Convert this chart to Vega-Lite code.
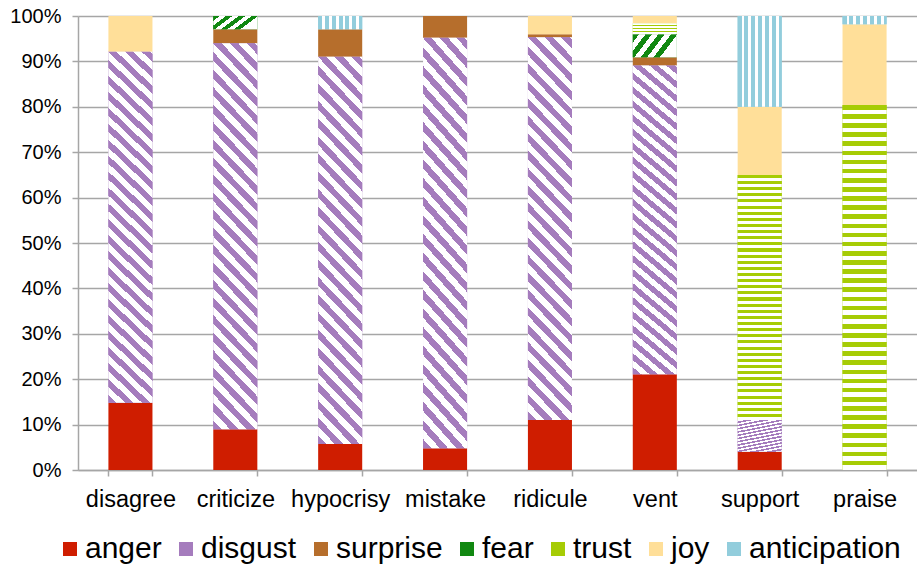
{
  "$schema": "https://vega.github.io/schema/vega-lite/v6.json",
  "autosize": {"type": "none"},
  "width": 839,
  "height": 454,
  "padding": {"left": 78, "top": 16, "right": 0, "bottom": 97},
  "background": "white",
  "config": {"view": {"stroke": null}, "font": "Liberation Sans"},
  "data": {"values": [
    {"category": "disagree", "emotion": "anger", "value": 14.8},
    {"category": "disagree", "emotion": "disgust", "value": 77.3},
    {"category": "disagree", "emotion": "joy", "value": 7.9},
    {"category": "criticize", "emotion": "anger", "value": 9.0},
    {"category": "criticize", "emotion": "disgust", "value": 85.0},
    {"category": "criticize", "emotion": "surprise", "value": 3.1},
    {"category": "criticize", "emotion": "fear", "value": 2.9},
    {"category": "hypocrisy", "emotion": "anger", "value": 5.7},
    {"category": "hypocrisy", "emotion": "disgust", "value": 85.3},
    {"category": "hypocrisy", "emotion": "surprise", "value": 6.1},
    {"category": "hypocrisy", "emotion": "anticipation", "value": 2.9},
    {"category": "mistake", "emotion": "anger", "value": 4.8},
    {"category": "mistake", "emotion": "disgust", "value": 90.4},
    {"category": "mistake", "emotion": "surprise", "value": 4.8},
    {"category": "ridicule", "emotion": "anger", "value": 11.0},
    {"category": "ridicule", "emotion": "disgust", "value": 84.3},
    {"category": "ridicule", "emotion": "surprise", "value": 0.7},
    {"category": "ridicule", "emotion": "joy", "value": 4.0},
    {"category": "vent", "emotion": "anger", "value": 21.1},
    {"category": "vent", "emotion": "disgust", "value": 68.0},
    {"category": "vent", "emotion": "surprise", "value": 1.8},
    {"category": "vent", "emotion": "fear", "value": 5.1},
    {"category": "vent", "emotion": "trust", "value": 2.4},
    {"category": "vent", "emotion": "joy", "value": 1.6},
    {"category": "support", "emotion": "anger", "value": 4.0},
    {"category": "support", "emotion": "disgust", "value": 7.0},
    {"category": "support", "emotion": "trust", "value": 54.0},
    {"category": "support", "emotion": "joy", "value": 15.0},
    {"category": "support", "emotion": "anticipation", "value": 20.0},
    {"category": "praise", "emotion": "trust", "value": 80.4},
    {"category": "praise", "emotion": "joy", "value": 17.8},
    {"category": "praise", "emotion": "anticipation", "value": 1.8}
  ]},
  "transform": [
    {"calculate": "indexof(['anger','disgust','surprise','fear','trust','joy','anticipation'], datum.emotion)", "as": "k"},
    {"stack": "value", "groupby": ["category"], "sort": [{"field": "k", "order": "ascending"}], "offset": "normalize", "as": ["y0", "y1"]}
  ],
  "encoding": {
    "x": {
      "field": "category", "type": "nominal",
      "sort": ["disagree", "criticize", "hypocrisy", "mistake", "ridicule", "vent", "support", "praise"],
      "scale": {"paddingInner": 0.58, "paddingOuter": 0.29},
      "axis": {"title": null, "labelAngle": 0, "labelFontSize": 23.5, "labelColor": "#000000", "labelPadding": 11,
               "domainColor": "#A6A6A6", "domainWidth": 1.5, "tickColor": "#A6A6A6", "tickWidth": 1.5, "tickSize": 6,
               "tickBand": "extent", "grid": false}
    },
    "y": {
      "field": "y0", "type": "quantitative",
      "scale": {"domain": [0, 1], "nice": false},
      "axis": {"title": null, "format": ".0%", "values": [0, 0.1, 0.2, 0.3, 0.4, 0.5, 0.6, 0.7, 0.8, 0.9, 1.0],
               "labelFontSize": 20, "labelColor": "#000000", "labelPadding": 11,
               "domainColor": "#A6A6A6", "domainWidth": 1.5, "tickColor": "#A6A6A6", "tickWidth": 1.5, "tickSize": 6,
               "grid": true, "gridColor": "#A6A6A6", "gridWidth": 1.5}
    },
    "y2": {"field": "y1"}
  },
  "layer": [
    {
      "mark": {"type": "bar", "strokeWidth": 0},
      "encoding": {
        "color": {
          "field": "emotion", "type": "nominal",
          "scale": {
            "domain": ["anger", "disgust", "surprise", "fear", "trust", "joy", "anticipation"],
            "range": ["#CF1D00", "#A57CBD", "#B66E2C", "#118811", "#A6CC05", "#FFDF99", "#92CDDC"]
          },
          "legend": {
            "title": null, "orient": "none", "direction": "horizontal", "legendX": -23, "legendY": 518,
            "symbolType": "square", "symbolSize": 196, "symbolStrokeWidth": 0,
            "labelFontSize": 30, "labelColor": "#000000", "labelOffset": 0, "columnPadding": 9, "padding": 0,
            "labelLimit": 300
          }
        }
      }
    },
    {
      "transform": [{"filter": "datum.emotion === 'disgust'"}],
      "mark": {"type": "bar", "strokeWidth": 0, "fill": {"gradient": "linear", "x1": 0, "y1": 1, "x2": 0.134, "y2": -0.12, "stops": [
            {"offset": 0, "color": "#A57CBD"}, {"offset": 0.02, "color": "#A57CBD"},
            {"offset": 0.02, "color": "#ffffff"}, {"offset": 0.04, "color": "#ffffff"},
            {"offset": 0.04, "color": "#A57CBD"}, {"offset": 0.06, "color": "#A57CBD"},
            {"offset": 0.06, "color": "#ffffff"}, {"offset": 0.08, "color": "#ffffff"},
            {"offset": 0.08, "color": "#A57CBD"}, {"offset": 0.1, "color": "#A57CBD"},
            {"offset": 0.1, "color": "#ffffff"}, {"offset": 0.12, "color": "#ffffff"},
            {"offset": 0.12, "color": "#A57CBD"}, {"offset": 0.14, "color": "#A57CBD"},
            {"offset": 0.14, "color": "#ffffff"}, {"offset": 0.16, "color": "#ffffff"},
            {"offset": 0.16, "color": "#A57CBD"}, {"offset": 0.18, "color": "#A57CBD"},
            {"offset": 0.18, "color": "#ffffff"}, {"offset": 0.2, "color": "#ffffff"},
            {"offset": 0.2, "color": "#A57CBD"}, {"offset": 0.22, "color": "#A57CBD"},
            {"offset": 0.22, "color": "#ffffff"}, {"offset": 0.24, "color": "#ffffff"},
            {"offset": 0.24, "color": "#A57CBD"}, {"offset": 0.26, "color": "#A57CBD"},
            {"offset": 0.26, "color": "#ffffff"}, {"offset": 0.28, "color": "#ffffff"},
            {"offset": 0.28, "color": "#A57CBD"}, {"offset": 0.3, "color": "#A57CBD"},
            {"offset": 0.3, "color": "#ffffff"}, {"offset": 0.32, "color": "#ffffff"},
            {"offset": 0.32, "color": "#A57CBD"}, {"offset": 0.34, "color": "#A57CBD"},
            {"offset": 0.34, "color": "#ffffff"}, {"offset": 0.36, "color": "#ffffff"},
            {"offset": 0.36, "color": "#A57CBD"}, {"offset": 0.38, "color": "#A57CBD"},
            {"offset": 0.38, "color": "#ffffff"}, {"offset": 0.4, "color": "#ffffff"},
            {"offset": 0.4, "color": "#A57CBD"}, {"offset": 0.42, "color": "#A57CBD"},
            {"offset": 0.42, "color": "#ffffff"}, {"offset": 0.44, "color": "#ffffff"},
            {"offset": 0.44, "color": "#A57CBD"}, {"offset": 0.46, "color": "#A57CBD"},
            {"offset": 0.46, "color": "#ffffff"}, {"offset": 0.48, "color": "#ffffff"},
            {"offset": 0.48, "color": "#A57CBD"}, {"offset": 0.5, "color": "#A57CBD"},
            {"offset": 0.5, "color": "#ffffff"}, {"offset": 0.52, "color": "#ffffff"},
            {"offset": 0.52, "color": "#A57CBD"}, {"offset": 0.54, "color": "#A57CBD"},
            {"offset": 0.54, "color": "#ffffff"}, {"offset": 0.56, "color": "#ffffff"},
            {"offset": 0.56, "color": "#A57CBD"}, {"offset": 0.58, "color": "#A57CBD"},
            {"offset": 0.58, "color": "#ffffff"}, {"offset": 0.6, "color": "#ffffff"},
            {"offset": 0.6, "color": "#A57CBD"}, {"offset": 0.62, "color": "#A57CBD"},
            {"offset": 0.62, "color": "#ffffff"}, {"offset": 0.64, "color": "#ffffff"},
            {"offset": 0.64, "color": "#A57CBD"}, {"offset": 0.66, "color": "#A57CBD"},
            {"offset": 0.66, "color": "#ffffff"}, {"offset": 0.68, "color": "#ffffff"},
            {"offset": 0.68, "color": "#A57CBD"}, {"offset": 0.7, "color": "#A57CBD"},
            {"offset": 0.7, "color": "#ffffff"}, {"offset": 0.72, "color": "#ffffff"},
            {"offset": 0.72, "color": "#A57CBD"}, {"offset": 0.74, "color": "#A57CBD"},
            {"offset": 0.74, "color": "#ffffff"}, {"offset": 0.76, "color": "#ffffff"},
            {"offset": 0.76, "color": "#A57CBD"}, {"offset": 0.78, "color": "#A57CBD"},
            {"offset": 0.78, "color": "#ffffff"}, {"offset": 0.8, "color": "#ffffff"},
            {"offset": 0.8, "color": "#A57CBD"}, {"offset": 0.82, "color": "#A57CBD"},
            {"offset": 0.82, "color": "#ffffff"}, {"offset": 0.84, "color": "#ffffff"},
            {"offset": 0.84, "color": "#A57CBD"}, {"offset": 0.86, "color": "#A57CBD"},
            {"offset": 0.86, "color": "#ffffff"}, {"offset": 0.88, "color": "#ffffff"},
            {"offset": 0.88, "color": "#A57CBD"}, {"offset": 0.9, "color": "#A57CBD"},
            {"offset": 0.9, "color": "#ffffff"}, {"offset": 0.92, "color": "#ffffff"},
            {"offset": 0.92, "color": "#A57CBD"}, {"offset": 0.94, "color": "#A57CBD"},
            {"offset": 0.94, "color": "#ffffff"}, {"offset": 0.96, "color": "#ffffff"},
            {"offset": 0.96, "color": "#A57CBD"}, {"offset": 0.98, "color": "#A57CBD"},
            {"offset": 0.98, "color": "#ffffff"}, {"offset": 1, "color": "#ffffff"}
          ]}}
    },
    {
      "transform": [{"filter": "datum.emotion === 'fear'"}],
      "mark": {"type": "bar", "strokeWidth": 0, "fill": {"gradient": "linear", "x1": 0, "y1": 0, "x2": 1, "y2": 0.4, "stops": [
            {"offset": 0, "color": "#118811"}, {"offset": 0.125, "color": "#118811"},
            {"offset": 0.125, "color": "#ffffff"}, {"offset": 0.25, "color": "#ffffff"},
            {"offset": 0.25, "color": "#118811"}, {"offset": 0.375, "color": "#118811"},
            {"offset": 0.375, "color": "#ffffff"}, {"offset": 0.5, "color": "#ffffff"},
            {"offset": 0.5, "color": "#118811"}, {"offset": 0.625, "color": "#118811"},
            {"offset": 0.625, "color": "#ffffff"}, {"offset": 0.75, "color": "#ffffff"},
            {"offset": 0.75, "color": "#118811"}, {"offset": 0.875, "color": "#118811"},
            {"offset": 0.875, "color": "#ffffff"}, {"offset": 1, "color": "#ffffff"}
          ]}}
    },
    {
      "transform": [{"filter": "datum.emotion === 'trust'"}],
      "mark": {"type": "bar", "strokeWidth": 0, "fill": {"gradient": "linear", "x1": 0, "y1": 0, "x2": 0, "y2": 1, "stops": [
            {"offset": 0, "color": "#A6CC05"}, {"offset": 0.0125, "color": "#A6CC05"},
            {"offset": 0.0125, "color": "#ffffff"}, {"offset": 0.025, "color": "#ffffff"},
            {"offset": 0.025, "color": "#A6CC05"}, {"offset": 0.0375, "color": "#A6CC05"},
            {"offset": 0.0375, "color": "#ffffff"}, {"offset": 0.05, "color": "#ffffff"},
            {"offset": 0.05, "color": "#A6CC05"}, {"offset": 0.0625, "color": "#A6CC05"},
            {"offset": 0.0625, "color": "#ffffff"}, {"offset": 0.075, "color": "#ffffff"},
            {"offset": 0.075, "color": "#A6CC05"}, {"offset": 0.0875, "color": "#A6CC05"},
            {"offset": 0.0875, "color": "#ffffff"}, {"offset": 0.1, "color": "#ffffff"},
            {"offset": 0.1, "color": "#A6CC05"}, {"offset": 0.1125, "color": "#A6CC05"},
            {"offset": 0.1125, "color": "#ffffff"}, {"offset": 0.125, "color": "#ffffff"},
            {"offset": 0.125, "color": "#A6CC05"}, {"offset": 0.1375, "color": "#A6CC05"},
            {"offset": 0.1375, "color": "#ffffff"}, {"offset": 0.15, "color": "#ffffff"},
            {"offset": 0.15, "color": "#A6CC05"}, {"offset": 0.1625, "color": "#A6CC05"},
            {"offset": 0.1625, "color": "#ffffff"}, {"offset": 0.175, "color": "#ffffff"},
            {"offset": 0.175, "color": "#A6CC05"}, {"offset": 0.1875, "color": "#A6CC05"},
            {"offset": 0.1875, "color": "#ffffff"}, {"offset": 0.2, "color": "#ffffff"},
            {"offset": 0.2, "color": "#A6CC05"}, {"offset": 0.2125, "color": "#A6CC05"},
            {"offset": 0.2125, "color": "#ffffff"}, {"offset": 0.225, "color": "#ffffff"},
            {"offset": 0.225, "color": "#A6CC05"}, {"offset": 0.2375, "color": "#A6CC05"},
            {"offset": 0.2375, "color": "#ffffff"}, {"offset": 0.25, "color": "#ffffff"},
            {"offset": 0.25, "color": "#A6CC05"}, {"offset": 0.2625, "color": "#A6CC05"},
            {"offset": 0.2625, "color": "#ffffff"}, {"offset": 0.275, "color": "#ffffff"},
            {"offset": 0.275, "color": "#A6CC05"}, {"offset": 0.2875, "color": "#A6CC05"},
            {"offset": 0.2875, "color": "#ffffff"}, {"offset": 0.3, "color": "#ffffff"},
            {"offset": 0.3, "color": "#A6CC05"}, {"offset": 0.3125, "color": "#A6CC05"},
            {"offset": 0.3125, "color": "#ffffff"}, {"offset": 0.325, "color": "#ffffff"},
            {"offset": 0.325, "color": "#A6CC05"}, {"offset": 0.3375, "color": "#A6CC05"},
            {"offset": 0.3375, "color": "#ffffff"}, {"offset": 0.35, "color": "#ffffff"},
            {"offset": 0.35, "color": "#A6CC05"}, {"offset": 0.3625, "color": "#A6CC05"},
            {"offset": 0.3625, "color": "#ffffff"}, {"offset": 0.375, "color": "#ffffff"},
            {"offset": 0.375, "color": "#A6CC05"}, {"offset": 0.3875, "color": "#A6CC05"},
            {"offset": 0.3875, "color": "#ffffff"}, {"offset": 0.4, "color": "#ffffff"},
            {"offset": 0.4, "color": "#A6CC05"}, {"offset": 0.4125, "color": "#A6CC05"},
            {"offset": 0.4125, "color": "#ffffff"}, {"offset": 0.425, "color": "#ffffff"},
            {"offset": 0.425, "color": "#A6CC05"}, {"offset": 0.4375, "color": "#A6CC05"},
            {"offset": 0.4375, "color": "#ffffff"}, {"offset": 0.45, "color": "#ffffff"},
            {"offset": 0.45, "color": "#A6CC05"}, {"offset": 0.4625, "color": "#A6CC05"},
            {"offset": 0.4625, "color": "#ffffff"}, {"offset": 0.475, "color": "#ffffff"},
            {"offset": 0.475, "color": "#A6CC05"}, {"offset": 0.4875, "color": "#A6CC05"},
            {"offset": 0.4875, "color": "#ffffff"}, {"offset": 0.5, "color": "#ffffff"},
            {"offset": 0.5, "color": "#A6CC05"}, {"offset": 0.5125, "color": "#A6CC05"},
            {"offset": 0.5125, "color": "#ffffff"}, {"offset": 0.525, "color": "#ffffff"},
            {"offset": 0.525, "color": "#A6CC05"}, {"offset": 0.5375, "color": "#A6CC05"},
            {"offset": 0.5375, "color": "#ffffff"}, {"offset": 0.55, "color": "#ffffff"},
            {"offset": 0.55, "color": "#A6CC05"}, {"offset": 0.5625, "color": "#A6CC05"},
            {"offset": 0.5625, "color": "#ffffff"}, {"offset": 0.575, "color": "#ffffff"},
            {"offset": 0.575, "color": "#A6CC05"}, {"offset": 0.5875, "color": "#A6CC05"},
            {"offset": 0.5875, "color": "#ffffff"}, {"offset": 0.6, "color": "#ffffff"},
            {"offset": 0.6, "color": "#A6CC05"}, {"offset": 0.6125, "color": "#A6CC05"},
            {"offset": 0.6125, "color": "#ffffff"}, {"offset": 0.625, "color": "#ffffff"},
            {"offset": 0.625, "color": "#A6CC05"}, {"offset": 0.6375, "color": "#A6CC05"},
            {"offset": 0.6375, "color": "#ffffff"}, {"offset": 0.65, "color": "#ffffff"},
            {"offset": 0.65, "color": "#A6CC05"}, {"offset": 0.6625, "color": "#A6CC05"},
            {"offset": 0.6625, "color": "#ffffff"}, {"offset": 0.675, "color": "#ffffff"},
            {"offset": 0.675, "color": "#A6CC05"}, {"offset": 0.6875, "color": "#A6CC05"},
            {"offset": 0.6875, "color": "#ffffff"}, {"offset": 0.7, "color": "#ffffff"},
            {"offset": 0.7, "color": "#A6CC05"}, {"offset": 0.7125, "color": "#A6CC05"},
            {"offset": 0.7125, "color": "#ffffff"}, {"offset": 0.725, "color": "#ffffff"},
            {"offset": 0.725, "color": "#A6CC05"}, {"offset": 0.7375, "color": "#A6CC05"},
            {"offset": 0.7375, "color": "#ffffff"}, {"offset": 0.75, "color": "#ffffff"},
            {"offset": 0.75, "color": "#A6CC05"}, {"offset": 0.7625, "color": "#A6CC05"},
            {"offset": 0.7625, "color": "#ffffff"}, {"offset": 0.775, "color": "#ffffff"},
            {"offset": 0.775, "color": "#A6CC05"}, {"offset": 0.7875, "color": "#A6CC05"},
            {"offset": 0.7875, "color": "#ffffff"}, {"offset": 0.8, "color": "#ffffff"},
            {"offset": 0.8, "color": "#A6CC05"}, {"offset": 0.8125, "color": "#A6CC05"},
            {"offset": 0.8125, "color": "#ffffff"}, {"offset": 0.825, "color": "#ffffff"},
            {"offset": 0.825, "color": "#A6CC05"}, {"offset": 0.8375, "color": "#A6CC05"},
            {"offset": 0.8375, "color": "#ffffff"}, {"offset": 0.85, "color": "#ffffff"},
            {"offset": 0.85, "color": "#A6CC05"}, {"offset": 0.8625, "color": "#A6CC05"},
            {"offset": 0.8625, "color": "#ffffff"}, {"offset": 0.875, "color": "#ffffff"},
            {"offset": 0.875, "color": "#A6CC05"}, {"offset": 0.8875, "color": "#A6CC05"},
            {"offset": 0.8875, "color": "#ffffff"}, {"offset": 0.9, "color": "#ffffff"},
            {"offset": 0.9, "color": "#A6CC05"}, {"offset": 0.9125, "color": "#A6CC05"},
            {"offset": 0.9125, "color": "#ffffff"}, {"offset": 0.925, "color": "#ffffff"},
            {"offset": 0.925, "color": "#A6CC05"}, {"offset": 0.9375, "color": "#A6CC05"},
            {"offset": 0.9375, "color": "#ffffff"}, {"offset": 0.95, "color": "#ffffff"},
            {"offset": 0.95, "color": "#A6CC05"}, {"offset": 0.9625, "color": "#A6CC05"},
            {"offset": 0.9625, "color": "#ffffff"}, {"offset": 0.975, "color": "#ffffff"},
            {"offset": 0.975, "color": "#A6CC05"}, {"offset": 0.9875, "color": "#A6CC05"},
            {"offset": 0.9875, "color": "#ffffff"}, {"offset": 1, "color": "#ffffff"}
          ]}}
    },
    {
      "transform": [{"filter": "datum.emotion === 'anticipation'"}],
      "mark": {"type": "bar", "strokeWidth": 0, "fill": {"gradient": "linear", "x1": 0, "y1": 0, "x2": 1, "y2": 0, "stops": [
            {"offset": 0, "color": "#92CDDC"}, {"offset": 0.09, "color": "#92CDDC"},
            {"offset": 0.09, "color": "#ffffff"}, {"offset": 0.155, "color": "#ffffff"},
            {"offset": 0.155, "color": "#92CDDC"}, {"offset": 0.245, "color": "#92CDDC"},
            {"offset": 0.245, "color": "#ffffff"}, {"offset": 0.31, "color": "#ffffff"},
            {"offset": 0.31, "color": "#92CDDC"}, {"offset": 0.4, "color": "#92CDDC"},
            {"offset": 0.4, "color": "#ffffff"}, {"offset": 0.465, "color": "#ffffff"},
            {"offset": 0.465, "color": "#92CDDC"}, {"offset": 0.555, "color": "#92CDDC"},
            {"offset": 0.555, "color": "#ffffff"}, {"offset": 0.62, "color": "#ffffff"},
            {"offset": 0.62, "color": "#92CDDC"}, {"offset": 0.71, "color": "#92CDDC"},
            {"offset": 0.71, "color": "#ffffff"}, {"offset": 0.775, "color": "#ffffff"},
            {"offset": 0.775, "color": "#92CDDC"}, {"offset": 0.865, "color": "#92CDDC"},
            {"offset": 0.865, "color": "#ffffff"}, {"offset": 0.93, "color": "#ffffff"},
            {"offset": 0.93, "color": "#92CDDC"}, {"offset": 1, "color": "#92CDDC"}
          ]}}
    }
  ]
}
